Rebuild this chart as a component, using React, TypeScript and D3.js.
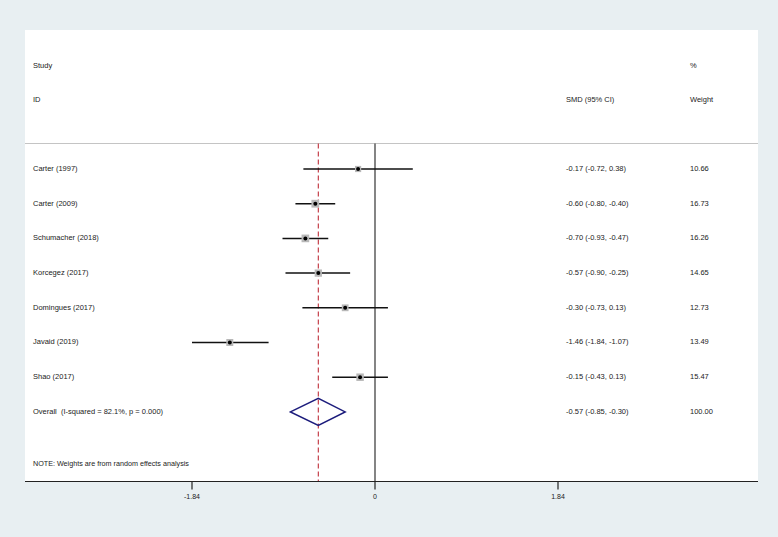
import { useEffect, useRef } from "react";
import * as d3 from "d3";

const studies = [
  "Carter (1997)",
  "Carter (2009)",
  "Schumacher (2018)",
  "Korcegez (2017)",
  "Domingues (2017)",
  "Javaid (2019)",
  "Shao (2017)",
];
const smd = [-0.17, -0.6, -0.7, -0.57, -0.3, -1.46, -0.15];
const lower = [-0.72, -0.8, -0.93, -0.9, -0.73, -1.84, -0.43];
const upper = [0.38, -0.4, -0.47, -0.25, 0.13, -1.07, 0.13];
const weights = [10.66, 16.73, 16.26, 14.65, 12.73, 13.49, 15.47];
const overall = { label: "Overall  (I-squared = 82.1%, p = 0.000)", est: -0.57, lo: -0.85, hi: -0.3, w: "100.00" };
const tickValues = [-1.84, 0, 1.84];

const W = 778;
const H = 537;

function App() {
  const svgRef = useRef<SVGSVGElement>(null);

  useEffect(() => {
    const svg = d3.select(svgRef.current);
    svg.selectAll("*").remove();

    const font = "'Liberation Sans', Arial, sans-serif";
    const textColor = "#222";
    const panel = { left: 25, right: 758, top: 30, bottom: 481.5 };

    svg.append("rect").attr("width", W).attr("height", H).attr("fill", "#e8eff2");
    svg
      .append("rect")
      .attr("x", panel.left)
      .attr("y", panel.top)
      .attr("width", panel.right - panel.left)
      .attr("height", panel.bottom - panel.top)
      .attr("fill", "#fff");

    const x = d3.scaleLinear().domain([-1.84, 1.84]).range([192, 558]);
    const y = d3
      .scaleLinear()
      .domain([0, studies.length])
      .range([169, 169 + 34.7 * studies.length]);

    const txt = (s: string, tx: number, ty: number, size = 7.5) =>
      svg
        .append("text")
        .attr("x", tx)
        .attr("y", ty)
        .attr("font-family", font)
        .attr("font-size", size)
        .attr("fill", textColor)
        .attr("dominant-baseline", "middle")
        .style("white-space", "pre")
        .text(s);

    // header
    txt("Study", 33, 66);
    txt("ID", 33, 100);
    txt("%", 690, 66);
    txt("SMD (95% CI)", 566, 100);
    txt("Weight", 690, 100);

    svg
      .append("line")
      .attr("x1", panel.left)
      .attr("x2", panel.right)
      .attr("y1", 143.5)
      .attr("y2", 143.5)
      .attr("stroke", "#c4c4c4")
      .attr("stroke-width", 1);

    // null line
    svg
      .append("line")
      .attr("x1", x(0))
      .attr("x2", x(0))
      .attr("y1", 143.5)
      .attr("y2", panel.bottom)
      .attr("stroke", "#333")
      .attr("stroke-width", 1.2);

    // overall dashed line
    svg
      .append("line")
      .attr("x1", x(overall.est))
      .attr("x2", x(overall.est))
      .attr("y1", 143.5)
      .attr("y2", panel.bottom)
      .attr("stroke", "#c0303a")
      .attr("stroke-width", 1.1)
      .attr("stroke-dasharray", "5,3");

    const fmt = d3.formatLocale({ decimal: ".", thousands: ",", grouping: [3], currency: ["", ""], minus: "-" }).format(".2f");

    studies.forEach((s, i) => {
      const yy = y(i);
      txt(s, 33, yy);
      txt(`${fmt(smd[i])} (${fmt(lower[i])}, ${fmt(upper[i])})`, 566, yy);
      txt(fmt(weights[i]), 690, yy);

      svg
        .append("line")
        .attr("x1", x(lower[i]))
        .attr("x2", x(upper[i]))
        .attr("y1", yy)
        .attr("y2", yy)
        .attr("stroke", "#111")
        .attr("stroke-width", 1.5);

      const side = Math.sqrt(weights[i]) * 1.9;
      svg
        .append("rect")
        .attr("x", x(smd[i]) - side / 2)
        .attr("y", yy - side / 2)
        .attr("width", side)
        .attr("height", side)
        .attr("fill", "#b8b8b8");

      svg
        .append("circle")
        .attr("cx", x(smd[i]))
        .attr("cy", yy)
        .attr("r", 2)
        .attr("fill", "#000");
    });

    // overall
    const oy = y(studies.length);
    txt(overall.label, 33, oy);
    txt(`${fmt(overall.est)} (${fmt(overall.lo)}, ${fmt(overall.hi)})`, 566, oy);
    txt(overall.w, 690, oy);
    const dh = 13.5;
    svg
      .append("path")
      .attr(
        "d",
        `M${x(overall.lo)},${oy}L${x(overall.est)},${oy - dh}L${x(overall.hi)},${oy}L${x(overall.est)},${oy + dh}Z`
      )
      .attr("fill", "none")
      .attr("stroke", "#1c1c7c")
      .attr("stroke-width", 1.5);

    txt("NOTE: Weights are from random effects analysis", 33, 464, 7.2);

    // axis
    const axis = svg.append("g").attr("transform", `translate(0,${panel.bottom})`);
    axis
      .append("line")
      .attr("x1", panel.left)
      .attr("x2", panel.right)
      .attr("stroke", "#222")
      .attr("stroke-width", 1.2);
    const ticks = axis.selectAll(".tick").data(tickValues).join("g").attr("class", "tick");
    ticks
      .append("line")
      .attr("x1", (d) => x(d))
      .attr("x2", (d) => x(d))
      .attr("y1", 0)
      .attr("y2", 8)
      .attr("stroke", "#222")
      .attr("stroke-width", 1.2);
    ticks
      .append("text")
      .attr("x", (d) => x(d))
      .attr("y", 16)
      .attr("text-anchor", "middle")
      .attr("dominant-baseline", "middle")
      .attr("font-family", font)
      .attr("font-size", 7)
      .attr("fill", textColor)
      .text((d) => String(d));
  }, []);

  return (
    <div style={{ position: "absolute", left: 0, top: 0 }}>
      <svg ref={svgRef} width={W} height={H} style={{ display: "block" }} />
    </div>
  );
}

export default App;
